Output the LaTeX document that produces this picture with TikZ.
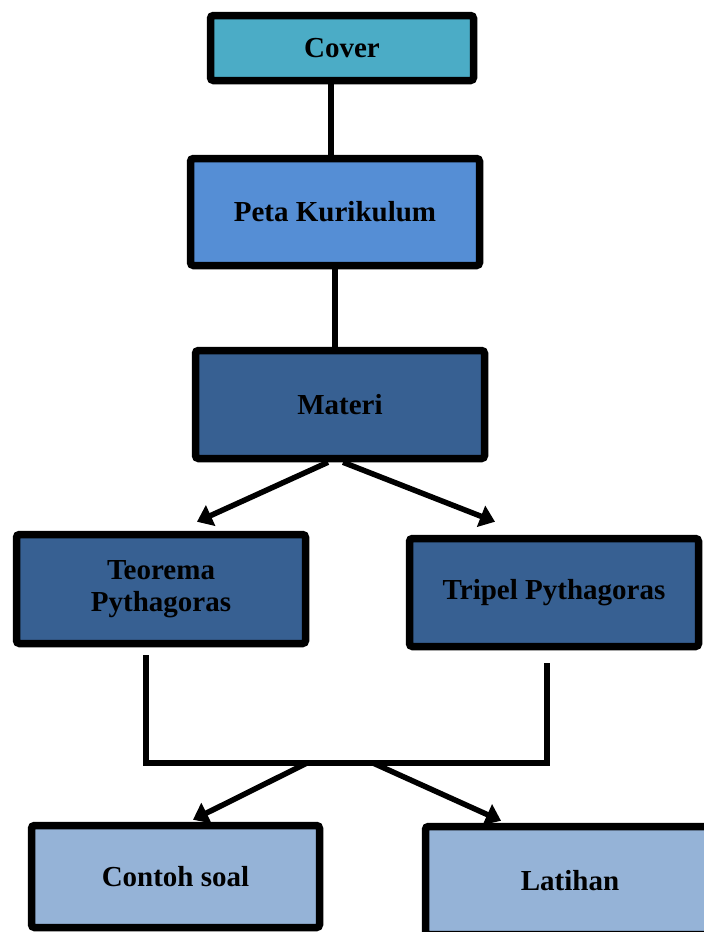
\documentclass[tikz,border=0pt]{standalone}
\usepackage{fontspec}
\setmainfont{Liberation Serif}
\usetikzlibrary{arrows.meta,shadows}

\definecolor{coverblue}{HTML}{4BACC6}
\definecolor{petablue}{HTML}{558ED5}
\definecolor{materiblue}{HTML}{376092}
\definecolor{soalblue}{HTML}{95B3D7}

\begin{document}
\begin{tikzpicture}[x=1pt,y=-1pt,
  box/.style={draw=black, line width=7.5pt, rounded corners=3pt,
    minimum width=289pt, minimum height=108pt, align=center,
    font=\fontsize{29}{32}\selectfont\bfseries,
    drop shadow={shadow xshift=2pt, shadow yshift=-3pt, opacity=0.25, fill=black}},
  link/.style={line width=5.5pt},
  arr/.style={line width=5.5pt, -{Triangle[length=15pt,width=22pt]}}]
\useasboundingbox (0,0) rectangle (704,932);

\node[box, fill=coverblue, minimum width=263pt, minimum height=65pt] (cover) at (342,48) {Cover};
\node[box, fill=petablue, minimum height=107pt] (peta) at (335,212) {Peta Kurikulum};
\node[box, fill=materiblue] (materi) at (340,404.5) {Materi};
\node[box, fill=materiblue, minimum height=109pt] (teorema) at (161,589) {\raisebox{-5pt}{Teorema}\\\raisebox{-5pt}{Pythagoras}};
\node[box, fill=materiblue] (tripel) at (554,592.5) {\raisebox{-4pt}{Tripel Pythagoras}};
\node[box, fill=soalblue, minimum width=288pt, minimum height=102pt] (contoh) at (175.5,876.5) {Contoh soal};
\node[box, fill=soalblue] (latihan) at (570,880.5) {Latihan};

\coordinate (tl) at (146,655);
\coordinate (bl) at (146,763);
\coordinate (tr) at (547,663);
\coordinate (br) at (547,763);
\coordinate (sl) at (307,763);
\coordinate (sr) at (373,763);

\draw[link] ([xshift=-4pt]peta.north) -- ([xshift=-4pt]peta.north |- cover.south);
\draw[link] (peta.south) -- (peta.south |- materi.north);
\draw[arr] ([xshift=-12pt]materi.south) -- ([xshift=36pt,yshift=9pt]teorema.north);
\draw[arr] ([xshift=3pt]materi.south) -- ([xshift=-59pt,yshift=13pt]tripel.north);
\draw[link] (tl) -- (bl) -- (br) -- (tr);
\draw[arr] (sl) -- ([xshift=17.5pt,yshift=2pt]contoh.north);
\draw[arr] (sr) -- ([xshift=-69pt,yshift=2pt]latihan.north);
\end{tikzpicture}
\end{document}
